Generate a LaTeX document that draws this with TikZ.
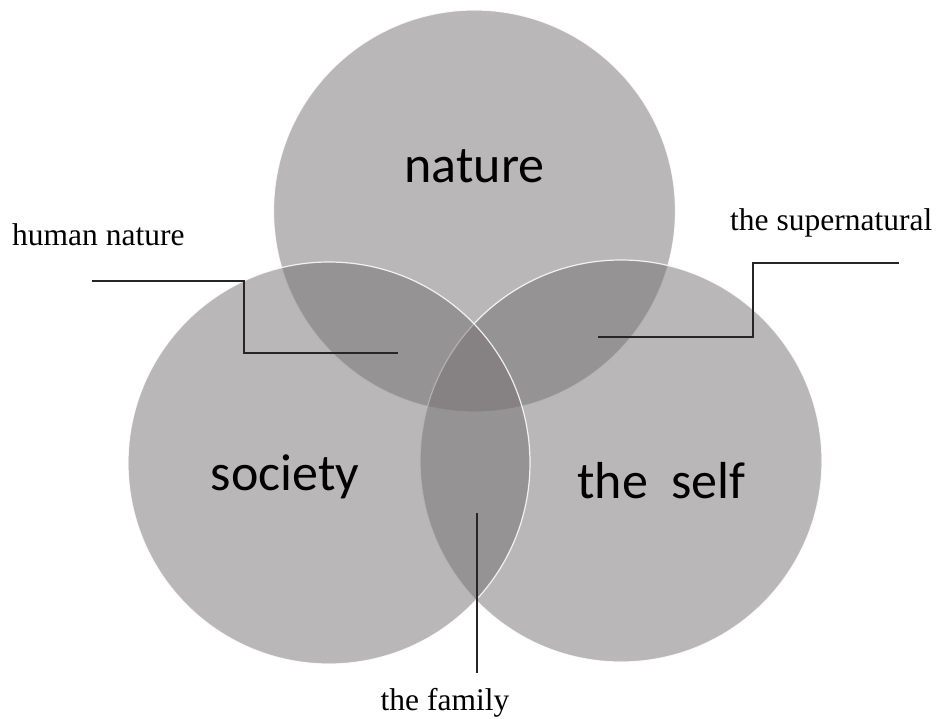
\documentclass[tikz,border=0pt]{standalone}
\usepackage{fontspec}
\newfontfamily\calib{Carlito}
\newfontfamily\serifl{Liberation Serif}
\definecolor{venngray}{RGB}{119,115,117}
\begin{document}
\begin{tikzpicture}[x=1bp,y=-1bp,
  venn/.style={circle,inner sep=0,minimum size=402bp,fill=venngray,fill opacity=0.516,draw=white,draw opacity=0.85,line width=1.2bp},
  big/.style={font=\calib\fontsize{52bp}{60bp}\selectfont,anchor=base,inner sep=0,text=black},
  small/.style={font=\serifl\fontsize{31.5bp}{36bp}\selectfont,anchor=base west,inner sep=0,text=black},
  leader/.style={draw=black!85,line width=1.6bp}]
\useasboundingbox (0,0) rectangle (938,719);
% circles
\node[venn] (natc) at (474.5,211) {};
\node[venn] (selfc) at (621,461) {};
\node[venn] (socc) at (329,463) {};
% main labels
\node[big] (nat) at (474.5,183) {nature};
\node[big] (soc) at (285,490) {society};
\node[big] (self) at (661.5,498) {the\hspace{0.45em}self};
% callout labels
\node[small] (hn) at (12,245) {human nature};
\node[small] (sup) at (730,230) {the supernatural};
\node[small,anchor=base] (fam) at (445,710) {the family};
% leader lines
\coordinate (hnA) at (92,281);
\coordinate (hnB) at (398,353);
\coordinate (supA) at (899,263);
\coordinate (supB) at (598,337);
\coordinate (famA) at (477,513);
\coordinate (famB) at (477,673);
\draw[leader] (hnA) -| (244,317) |- (hnB);
\draw[leader] (supA) -| (753,300) |- (supB);
\draw[leader] (famA) -- (famB);
\end{tikzpicture}
\end{document}
